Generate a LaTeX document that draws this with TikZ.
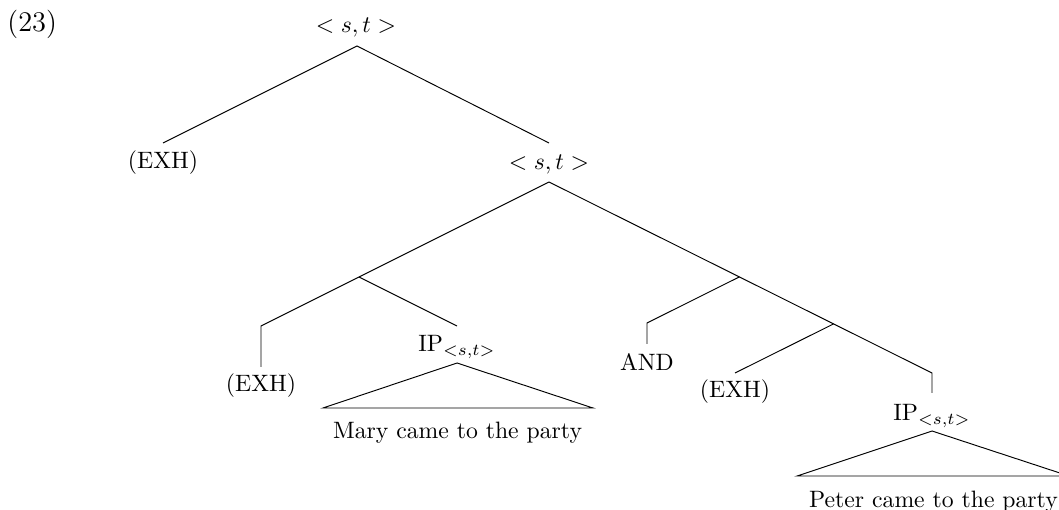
\documentclass[tikz,border=0pt]{standalone}
\usetikzlibrary{calc}
\begin{document}
\begin{tikzpicture}[x=0.42194pt,y=-0.42194pt,
  lbl/.style={inner sep=0pt,anchor=base},
  edge/.style={line width=0.4pt,line join=miter}]
\useasboundingbox (0,0) rectangle (1059,510);
% labels
\node[lbl,anchor=base west,font=\large] (num) at (7,32) {(23)};
\node[lbl] (root) at (356,33) {$<s,t>$};
\node[lbl] (exhA) at (163,169) {(EXH)};
\node[lbl] (st2) at (549,170) {$<s,t>$};
\node[lbl] (exhB) at (261,392) {(EXH)};
\node[lbl] (ipA) at (457,352) {$\mathrm{IP}_{<s,t>}$};
\node[lbl] (mary) at (457.5,439) {Mary came to the party};
\node[lbl] (and) at (647,371) {AND};
\node[lbl] (exhC) at (735,398) {(EXH)};
\node[lbl] (ipB) at (932,421) {$\mathrm{IP}_{<s,t>}$};
\node[lbl] (peter) at (933.5,507) {Peter came to the party};
% attachment points
\coordinate (rootB) at ($(root.base)+(1,13)$);
\coordinate (exhAt) at ($(exhA.base)+(0,-26)$);
\coordinate (st2t) at ($(st2.base)+(0,-27)$);
\coordinate (st2B) at ($(st2.base)+(0,12)$);
\coordinate (exhBt) at ($(exhB.base)+(0,-25)$);
\coordinate (exhBe) at ($(exhB.base)+(0,-66)$);
\coordinate (ipAt) at ($(ipA.base)+(0,-26)$);
\coordinate (ipAa) at ($(ipA.base)+(0,11)$);
\coordinate (andT) at ($(and.base)+(0,-27)$);
\coordinate (andE) at ($(and.base)+(0,-48)$);
\coordinate (exhCt) at ($(exhC.base)+(0,-25)$);
\coordinate (ipBt) at ($(ipB.base)+(0,-28)$);
\coordinate (ipBe) at ($(ipB.base)+(0,-48)$);
\coordinate (ipBa) at ($(ipB.base)+(0,10)$);
\coordinate (n1) at (359,277);
\coordinate (n2) at ($(st2B)!0.497!(ipBe)$);
\coordinate (n3) at ($(st2B)!0.743!(ipBe)$);
% edges
\draw[edge] (exhAt) -- (rootB) -- (st2t);
\draw[edge] (st2B) -- (n1) -- (exhBe) -- (exhBt);
\draw[edge] (n1) -- (ipAt);
\draw[edge] (st2B) -- (ipBe) -- (ipBt);
\draw[edge] (n2) -- (andE) -- (andT);
\draw[edge] (n3) -- (exhCt);
% triangles
\draw[edge] (ipAa) -- (323,408) -- (593,408) -- cycle;
\draw[edge] (ipBa) -- (797,476) -- (1069,476) -- cycle;
\end{tikzpicture}
\end{document}
